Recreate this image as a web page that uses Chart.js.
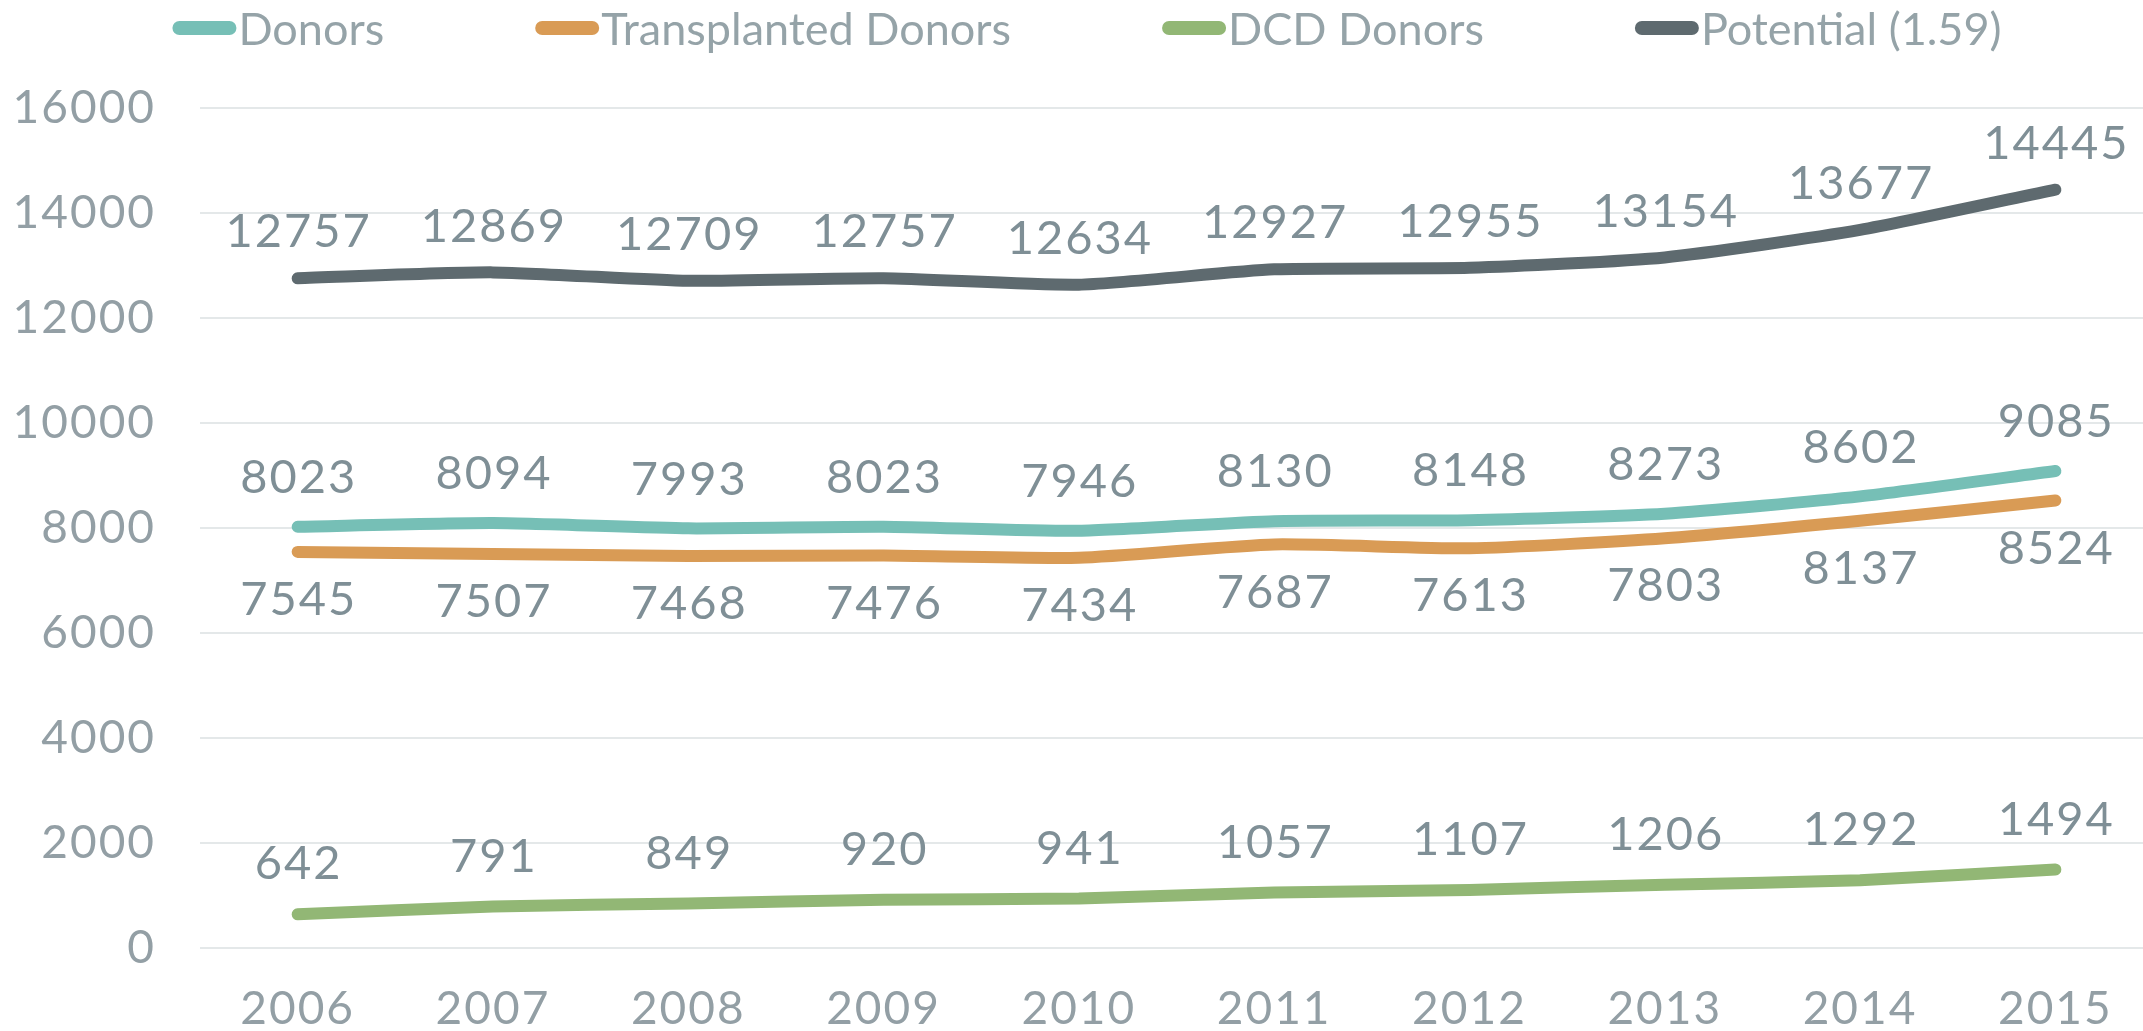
<!DOCTYPE html>
<html>
<head>
<meta charset="utf-8">
<script src="https://cdn.jsdelivr.net/npm/chart.js@4.4.1/dist/chart.umd.min.js"></script>
<style>
  html, body { margin: 0; padding: 0; background: #fff; overflow: hidden; }
  canvas { display: block; }
</style>
</head>
<body>
<canvas id="grafico" width="2153" height="1031"></canvas>
<script>
const anios = ["2006", "2007", "2008", "2009", "2010", "2011", "2012", "2013", "2014", "2015"];
const donantes = [8023, 8094, 7993, 8023, 7946, 8130, 8148, 8273, 8602, 9085];
const trasplantados = [7545, 7507, 7468, 7476, 7434, 7687, 7613, 7803, 8137, 8524];
const donantesDCD = [642, 791, 849, 920, 941, 1057, 1107, 1206, 1292, 1494];
const potencial = [12757, 12869, 12709, 12757, 12634, 12927, 12955, 13154, 13677, 14445];
const ticksY = [0, 2000, 4000, 6000, 8000, 10000, 12000, 14000, 16000];

const fuente = "Lato, 'Open Sans', sans-serif";

// un poco de espaciado entre digitos
const espaciado = {
  id: "espaciado",
  beforeDraw(chart) { chart.ctx.letterSpacing = "2px"; }
};

// etiquetas de valor encima / debajo de cada punto
const etiquetas = {
  id: "etiquetas",
  afterDatasetsDraw(chart) {
    const ctx = chart.ctx;
    ctx.save();
    ctx.letterSpacing = "2px";
    ctx.font = "47px " + fuente;
    ctx.fillStyle = "#7f8f96";
    ctx.textAlign = "center";
    ctx.textBaseline = "middle";
    chart.data.datasets.forEach((ds, i) => {
      const meta = chart.getDatasetMeta(i);
      meta.data.forEach((p, j) => {
        ctx.fillText(String(ds.data[j]), p.x + 1, p.y + ds.etiquetaDy);
      });
    });
    ctx.restore();
  }
};

// leyenda simple: barra redondeada pegada al texto
const leyenda = {
  id: "leyenda",
  afterDraw(chart) {
    const ctx = chart.ctx;
    const sets = chart.data.datasets;
    const anchoBarra = 64, altoBarra = 14, hueco = 2, separacion = 151;
    ctx.save();
    ctx.letterSpacing = "0px";
    ctx.font = "45px " + fuente;
    ctx.textBaseline = "middle";
    let total = 0;
    sets.forEach((ds, i) => {
      total += anchoBarra + hueco + ctx.measureText(ds.label).width;
      if (i < sets.length - 1) total += separacion;
    });
    let x = 1087 - total / 2;
    const y = 28;
    sets.forEach(ds => {
      ctx.fillStyle = ds.borderColor;
      ctx.beginPath();
      ctx.roundRect(x, y - altoBarra / 2, anchoBarra, altoBarra, altoBarra / 2);
      ctx.fill();
      x += anchoBarra + hueco;
      ctx.fillStyle = "#95a3a8";
      ctx.textAlign = "left";
      ctx.fillText(ds.label, x, y + 2);
      x += ctx.measureText(ds.label).width + separacion;
    });
    ctx.restore();
  }
};

function serie(label, data, color, dy) {
  return {
    label: label,
    data: data,
    borderColor: color,
    backgroundColor: color,
    borderWidth: 12,
    borderCapStyle: "round",
    borderJoinStyle: "round",
    pointRadius: 0,
    tension: 0.2,
    fill: false,
    etiquetaDy: dy
  };
}

const ctx = document.getElementById("grafico").getContext("2d");
new Chart(ctx, {
  type: "line",
  data: {
    labels: anios,
    datasets: [
      serie("Donors", donantes, "#76bfb6", -49),
      serie("Transplanted Donors", trasplantados, "#d99b55", 48),
      serie("DCD Donors", donantesDCD, "#92b775", -50),
      serie("Potential (1.59)", potencial, "#5e6a6f", -46)
    ]
  },
  options: {
    responsive: false,
    animation: false,
    devicePixelRatio: 1,
    layout: { padding: { top: 108, right: 0, bottom: 0, left: 0 } },
    plugins: {
      legend: { display: false },
      tooltip: { enabled: false }
    },
    scales: {
      x: {
        offset: true,
        afterFit(scale) { scale.height = 83; },
        grid: { display: false, drawTicks: false },
        border: { display: false },
        ticks: {
          color: "#939fa5",
          padding: 34,
          maxRotation: 0,
          font: { family: fuente, size: 46, lineHeight: 1.2 }
        }
      },
      y: {
        min: 0,
        max: 16000,
        afterBuildTicks(scale) {
          scale.ticks = ticksY.map(v => ({ value: v }));
        },
        afterFit(scale) { scale.width = 200; },
        grid: { color: "#e4e8e9", lineWidth: 2, drawTicks: false },
        border: { display: false },
        ticks: {
          color: "#939fa5",
          padding: 44,
          callback: v => String(v),
          font: { family: fuente, size: 46 }
        }
      }
    }
  },
  plugins: [espaciado, etiquetas, leyenda]
});
</script>
</body>
</html>
